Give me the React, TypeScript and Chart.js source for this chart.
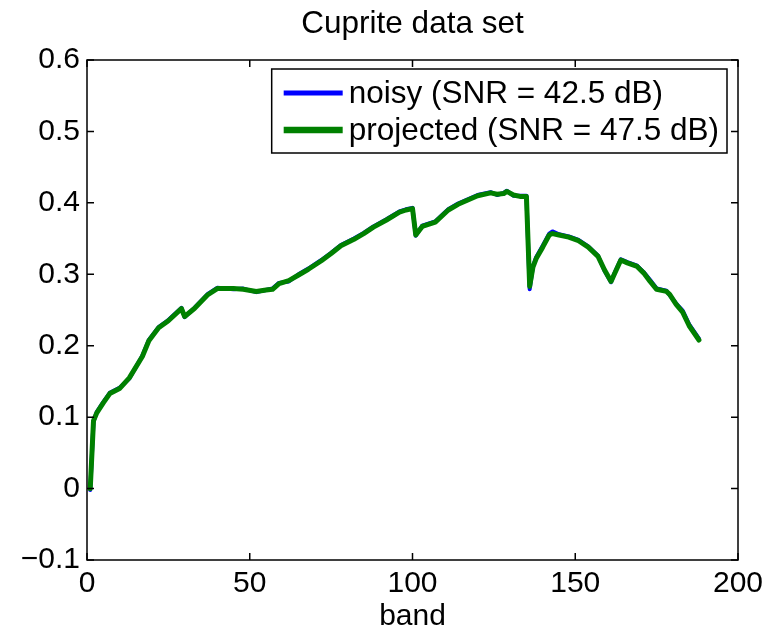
import React, { useEffect, useRef } from "react";
import { Chart, registerables } from "chart.js";

Chart.register(...registerables);

const TITLE = "Cuprite data set";
const X_LABEL = "band";
const NOISY_LABEL = "noisy (SNR = 42.5 dB)";
const PROJ_LABEL = "projected (SNR = 47.5 dB)";

const X_TICKS = [0, 50, 100, 150, 200];
const Y_TICKS = [-0.1, 0, 0.1, 0.2, 0.3, 0.4, 0.5, 0.6];

const bands = [
  1, 2, 3, 5, 7, 10, 13, 17, 19, 22, 25, 29, 30, 33, 37, 40, 45, 48, 52, 55, 57, 59,
  62, 65, 68, 72, 75, 78, 82, 85, 88, 92, 96, 98, 100, 101, 103, 107, 111, 114, 117,
  120, 124, 126, 128, 129, 131, 133, 135, 136, 137, 138, 140, 142, 143, 145, 148, 151,
  154, 157, 159, 161, 162, 164, 166, 169, 171, 173, 175, 178, 179, 181, 183, 185, 188,
];

const projected = [
  0.0, 0.095, 0.106, 0.12, 0.133, 0.14, 0.155, 0.185, 0.207, 0.225, 0.235, 0.252, 0.241,
  0.252, 0.271, 0.28, 0.28, 0.279, 0.276, 0.278, 0.279, 0.287, 0.291, 0.299, 0.307,
  0.319, 0.329, 0.34, 0.349, 0.357, 0.366, 0.376, 0.387, 0.39, 0.392, 0.355, 0.367,
  0.373, 0.39, 0.398, 0.404, 0.41, 0.414, 0.412, 0.413, 0.416, 0.411, 0.409, 0.409,
  0.283, 0.31, 0.322, 0.338, 0.355, 0.357, 0.355, 0.352, 0.347, 0.338, 0.325, 0.306,
  0.29, 0.3, 0.32, 0.316, 0.311, 0.302, 0.29, 0.279, 0.276, 0.272, 0.258, 0.247, 0.228,
  0.208,
];

const noisy = [
  -0.002, 0.094, 0.107, 0.121, 0.134, 0.141, 0.154, 0.186, 0.208, 0.226, 0.236, 0.253,
  0.24, 0.253, 0.272, 0.281, 0.279, 0.28, 0.275, 0.278, 0.28, 0.288, 0.29, 0.3, 0.308,
  0.32, 0.33, 0.341, 0.35, 0.358, 0.367, 0.377, 0.388, 0.391, 0.393, 0.354, 0.368,
  0.374, 0.391, 0.399, 0.405, 0.411, 0.415, 0.411, 0.414, 0.417, 0.41, 0.41, 0.41,
  0.279, 0.311, 0.324, 0.34, 0.357, 0.36, 0.356, 0.353, 0.348, 0.339, 0.326, 0.305,
  0.289, 0.301, 0.321, 0.317, 0.312, 0.303, 0.292, 0.28, 0.277, 0.271, 0.259, 0.249,
  0.23, 0.21,
];

const FONT = "'Liberation Sans', Arial, Helvetica, sans-serif";
const FONT_SIZE = 30;
const LEGEND_SIZE = 31.5;
const BLUE = "#0000ff";
const GREEN = "#008000";

const boxPlugin = {
  id: "matlabBox",
  afterDatasetsDraw(chart: any) {
    const { ctx, chartArea } = chart;
    const { left, right, top, bottom } = chartArea;
    const xs = chart.scales.x;
    const ys = chart.scales.y;
    ctx.save();
    ctx.strokeStyle = "#000";
    ctx.lineWidth = 1.5;
    ctx.strokeRect(left, top, right - left, bottom - top);
    const tl = 7;
    ctx.beginPath();
    X_TICKS.forEach((v) => {
      const px = xs.getPixelForValue(v);
      ctx.moveTo(px, bottom);
      ctx.lineTo(px, bottom - tl);
      ctx.moveTo(px, top);
      ctx.lineTo(px, top + tl);
    });
    Y_TICKS.forEach((v) => {
      const py = ys.getPixelForValue(v);
      ctx.moveTo(left, py);
      ctx.lineTo(left + tl, py);
      ctx.moveTo(right, py);
      ctx.lineTo(right - tl, py);
    });
    ctx.stroke();

    // title centred over the plot area
    ctx.fillStyle = "#000";
    ctx.font = `${LEGEND_SIZE}px ${FONT}`;
    ctx.textAlign = "center";
    ctx.textBaseline = "middle";
    ctx.fillText(TITLE, (left + right) / 2, 24);

    // legend
    const items = [
      { label: NOISY_LABEL, color: BLUE, width: 5 },
      { label: PROJ_LABEL, color: GREEN, width: 6.5 },
    ];
    const textW = Math.max(...items.map((it) => ctx.measureText(it.label).width));
    const lineLen = 59;
    const boxW = 12 + lineLen + 6 + textW + 8;
    const boxRight = right - 11;
    const boxLeft = boxRight - boxW;
    const boxTop = top + 9;
    const boxH = 84;
    ctx.fillStyle = "#fff";
    ctx.fillRect(boxLeft, boxTop, boxW, boxH);
    ctx.lineWidth = 1.5;
    ctx.strokeStyle = "#000";
    ctx.strokeRect(boxLeft, boxTop, boxW, boxH);
    items.forEach((it, i) => {
      const y = boxTop + 24 + i * 37;
      ctx.beginPath();
      ctx.strokeStyle = it.color;
      ctx.lineWidth = it.width;
      ctx.moveTo(boxLeft + 12, y);
      ctx.lineTo(boxLeft + 12 + lineLen, y);
      ctx.stroke();
      ctx.fillStyle = "#000";
      ctx.textBaseline = "middle";
      ctx.textAlign = "left";
      ctx.fillText(it.label, boxLeft + 12 + lineLen + 6, y + 1);
    });
    ctx.restore();
  },
};

export default function App() {
  const ref = useRef<HTMLCanvasElement | null>(null);
  useEffect(() => {
    document.body.style.margin = "0";
    const canvas = ref.current;
    if (!canvas) return;
    const chart = new Chart(canvas, {
      type: "line",
      data: {
        datasets: [
          {
            label: NOISY_LABEL,
            data: bands.map((b, i) => ({ x: b, y: noisy[i] })),
            borderColor: BLUE,
            borderWidth: 4,
            borderJoinStyle: "round",
            borderCapStyle: "round",
            pointRadius: 0,
            tension: 0,
            order: 2,
          },
          {
            label: PROJ_LABEL,
            data: bands.map((b, i) => ({ x: b, y: projected[i] })),
            borderColor: GREEN,
            borderWidth: 5,
            borderJoinStyle: "round",
            borderCapStyle: "round",
            pointRadius: 0,
            tension: 0,
            order: 1,
          },
        ],
      },
      options: {
        animation: false,
        responsive: false,
        layout: { padding: { left: 0, right: 34, top: 60, bottom: 0 } },
        plugins: {
          legend: { display: false },
          tooltip: { enabled: false },
          title: { display: false },
        },
        scales: {
          x: {
            type: "linear",
            min: 0,
            max: 200,
            afterFit: (s: any) => {
              s.height = 70;
            },
            afterBuildTicks: (s: any) => {
              s.ticks = X_TICKS.map((v) => ({ value: v }));
            },
            grid: { display: false, drawTicks: false },
            border: { display: false },
            ticks: {
              color: "#000",
              font: { family: FONT, size: FONT_SIZE },
              padding: 6,
              maxRotation: 0,
              callback: (v: any) => String(v),
            },
            title: {
              display: true,
              text: X_LABEL,
              color: "#000",
              font: { family: FONT, size: FONT_SIZE, lineHeight: 26 / 30 },
              padding: { top: 0, bottom: 0 },
            },
          },
          y: {
            type: "linear",
            min: -0.1,
            max: 0.6,
            afterFit: (s: any) => {
              s.width = 87;
            },
            afterBuildTicks: (s: any) => {
              s.ticks = Y_TICKS.map((v) => ({ value: v }));
            },
            grid: { display: false, drawTicks: false },
            border: { display: false },
            ticks: {
              color: "#000",
              font: { family: FONT, size: FONT_SIZE },
              padding: 7,
              callback: (v: any) => {
                const n = Number(v);
                if (Math.abs(n) < 1e-9) return "0";
                return (n < 0 ? "\u2212" : "") + Math.abs(n).toFixed(1);
              },
            },
          },
        },
      },
      plugins: [boxPlugin],
    });
    return () => chart.destroy();
  }, []);
  return (
    <div style={{ width: 772, height: 630, background: "#fff" }}>
      <canvas ref={ref} width={772} height={630} />
    </div>
  );
}
